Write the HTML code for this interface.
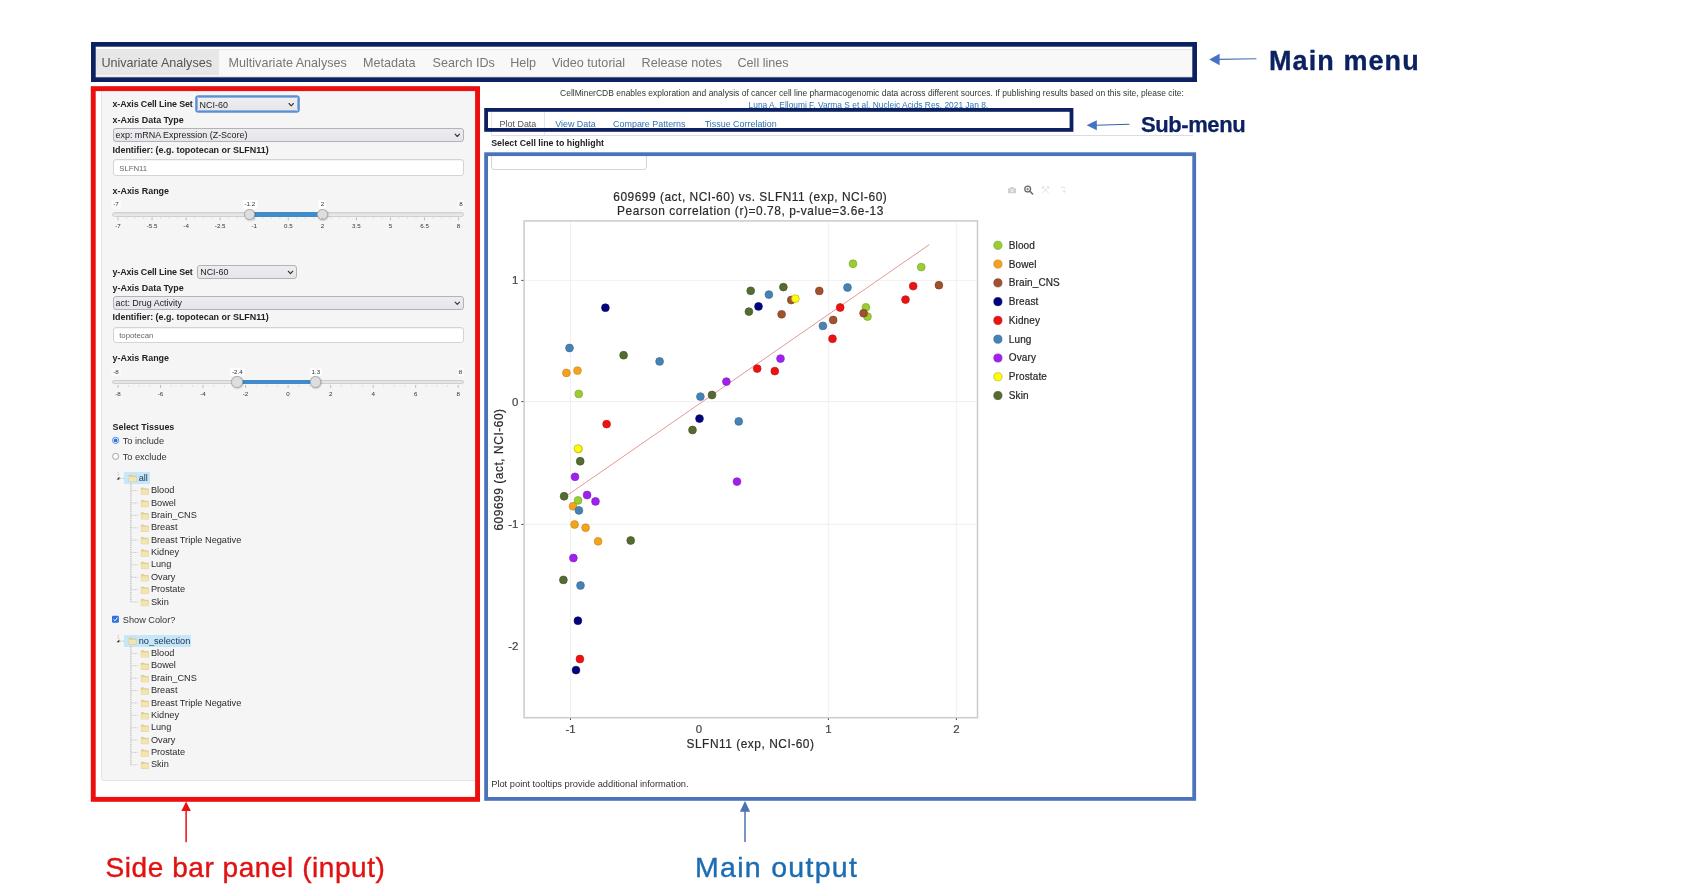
<!DOCTYPE html>
<html><head><meta charset="utf-8"><title>CellMinerCDB layout</title>
<style>
html,body{margin:0;padding:0;background:#fff;}
body{width:1685px;height:896px;position:relative;overflow:hidden;font-family:"Liberation Sans", sans-serif;}
.t{position:absolute;white-space:nowrap;line-height:1;font-family:"Liberation Sans", sans-serif;}
.b{position:absolute;box-sizing:border-box;}
svg{position:absolute;left:0;top:0;}
svg text{font-family:"Liberation Sans", sans-serif;}
#wrap{position:absolute;left:0;top:0;width:1685px;height:896px;will-change:transform;}
</style></head><body><div id="wrap">

<div class="b" style="left:93.50px;top:48.50px;width:1101.00px;height:28.10px;background:#f8f8f8;border:1px solid #e7e7e7;"></div>
<div class="b" style="left:93.50px;top:49.70px;width:125.90px;height:24.90px;background:#e7e7e7;"></div>
<div class="t" style="left:101.40px;top:57.33px;font-size:12.6px;color:#555;">Univariate Analyses</div>
<div class="t" style="left:228.50px;top:57.33px;font-size:12.6px;color:#777;">Multivariate Analyses</div>
<div class="t" style="left:363.10px;top:57.33px;font-size:12.6px;color:#777;">Metadata</div>
<div class="t" style="left:432.60px;top:57.33px;font-size:12.6px;color:#777;">Search IDs</div>
<div class="t" style="left:510.20px;top:57.33px;font-size:12.6px;color:#777;">Help</div>
<div class="t" style="left:551.90px;top:57.33px;font-size:12.6px;color:#777;">Video tutorial</div>
<div class="t" style="left:641.60px;top:57.33px;font-size:12.6px;color:#777;">Release notes</div>
<div class="t" style="left:737.50px;top:57.33px;font-size:12.6px;color:#777;">Cell lines</div>
<div class="b" style="left:101.30px;top:86.00px;width:377.20px;height:695.00px;background:#f5f5f5;border:1px solid #e3e3e3;border-radius:3px;"></div>
<div class="t" style="left:112.50px;top:100.04px;font-size:8.93px;color:#222;font-weight:700;letter-spacing:-0.13px;">x-Axis Cell Line Set</div>
<div class="b" style="left:196.60px;top:97.40px;width:101.60px;height:13.80px;background:linear-gradient(#efeff2,#e6e6ea);border:1px solid #8fb2de;border-radius:1.5px;box-shadow:0 0 0 1.8px #5b8fd2;"></div>
<div class="t" style="left:199.60px;top:100.64px;font-size:8.93px;color:#222;">NCI-60</div>
<svg width="1685" height="896" style="pointer-events:none"><path d="M289.00 103.50 L291.20 105.80 L293.40 103.50" fill="none" stroke="#333" stroke-width="1.1" stroke-linecap="round" stroke-linejoin="round"/></svg>
<div class="t" style="left:112.50px;top:115.84px;font-size:8.93px;color:#222;font-weight:700;">x-Axis Data Type</div>
<div class="b" style="left:112.50px;top:128.00px;width:351.80px;height:14.00px;background:linear-gradient(#ededf1,#e5e5ea);border:1px solid #b2b2b8;border-radius:3px;"></div>
<div class="t" style="left:115.50px;top:131.34px;font-size:8.93px;color:#222;">exp: mRNA Expression (Z-Score)</div>
<svg width="1685" height="896" style="pointer-events:none"><path d="M455.10 134.20 L457.30 136.50 L459.50 134.20" fill="none" stroke="#333" stroke-width="1.1" stroke-linecap="round" stroke-linejoin="round"/></svg>
<div class="t" style="left:112.50px;top:145.64px;font-size:8.93px;color:#222;font-weight:700;">Identifier: (e.g. topotecan or SLFN11)</div>
<div class="b" style="left:113.00px;top:159.40px;width:351.30px;height:16.20px;background:#fff;border:1px solid #d4d4d4;border-radius:3px;box-shadow:inset 0 1px 1px rgba(0,0,0,.05);"></div>
<div class="t" style="left:119.20px;top:164.70px;font-size:7.8px;color:#666;">SLFN11</div>
<div class="t" style="left:112.50px;top:186.74px;font-size:8.93px;color:#222;font-weight:700;">x-Axis Range</div>
<div class="b" style="left:112.40px;top:212.00px;width:351.80px;height:4.60px;background:linear-gradient(#dedede,#ebebeb);border:1px solid #cfcfcf;border-radius:3px;"></div>
<div class="b" style="left:249.70px;top:212.00px;width:72.66px;height:4.60px;background:#428bca;border-top:1px solid #428bca;border-bottom:1px solid #428bca;"></div>
<div class="b" style="left:244.00px;top:208.60px;width:11.40px;height:11.40px;background:#dedede;border:1px solid #ababab;border-radius:50%;box-shadow:0.5px 0.5px 1.5px rgba(0,0,20,.25);"></div>
<div class="b" style="left:316.66px;top:208.60px;width:11.40px;height:11.40px;background:#dedede;border:1px solid #ababab;border-radius:50%;box-shadow:0.5px 0.5px 1.5px rgba(0,0,20,.25);"></div>
<div class="t" style="left:116.00px;top:201.15px;font-size:6.2px;color:#333;transform:translateX(-50%);background:rgba(255,255,255,.55);padding:1.2px 2px 1.2px 2px;margin-top:-1.2px;border-radius:2px;">-7</div>
<div class="t" style="left:461.00px;top:201.15px;font-size:6.2px;color:#333;transform:translateX(-50%);background:rgba(255,255,255,.55);padding:1.2px 2px 1.2px 2px;margin-top:-1.2px;border-radius:2px;">8</div>
<div class="t" style="left:249.90px;top:201.15px;font-size:6.2px;color:#333;transform:translateX(-50%);background:rgba(255,255,255,.85);padding:1.2px 2px 1.2px 2px;margin-top:-1.2px;border-radius:2px;">-1.2</div>
<div class="t" style="left:322.46px;top:201.15px;font-size:6.2px;color:#333;transform:translateX(-50%);background:rgba(255,255,255,.85);padding:1.2px 2px 1.2px 2px;margin-top:-1.2px;border-radius:2px;">2</div>
<svg width="1685" height="896" style="pointer-events:none"><line x1="118.00" y1="217.30" x2="118.00" y2="220.30" stroke="#b0b0b0" stroke-width="0.8"/><line x1="126.52" y1="217.30" x2="126.52" y2="219.10" stroke="#d4d4d4" stroke-width="0.7"/><line x1="135.03" y1="217.30" x2="135.03" y2="219.10" stroke="#d4d4d4" stroke-width="0.7"/><line x1="143.55" y1="217.30" x2="143.55" y2="219.10" stroke="#d4d4d4" stroke-width="0.7"/><line x1="152.06" y1="217.30" x2="152.06" y2="220.30" stroke="#b0b0b0" stroke-width="0.8"/><line x1="160.57" y1="217.30" x2="160.57" y2="219.10" stroke="#d4d4d4" stroke-width="0.7"/><line x1="169.09" y1="217.30" x2="169.09" y2="219.10" stroke="#d4d4d4" stroke-width="0.7"/><line x1="177.61" y1="217.30" x2="177.61" y2="219.10" stroke="#d4d4d4" stroke-width="0.7"/><line x1="186.12" y1="217.30" x2="186.12" y2="220.30" stroke="#b0b0b0" stroke-width="0.8"/><line x1="194.63" y1="217.30" x2="194.63" y2="219.10" stroke="#d4d4d4" stroke-width="0.7"/><line x1="203.15" y1="217.30" x2="203.15" y2="219.10" stroke="#d4d4d4" stroke-width="0.7"/><line x1="211.67" y1="217.30" x2="211.67" y2="219.10" stroke="#d4d4d4" stroke-width="0.7"/><line x1="220.18" y1="217.30" x2="220.18" y2="220.30" stroke="#b0b0b0" stroke-width="0.8"/><line x1="228.69" y1="217.30" x2="228.69" y2="219.10" stroke="#d4d4d4" stroke-width="0.7"/><line x1="237.21" y1="217.30" x2="237.21" y2="219.10" stroke="#d4d4d4" stroke-width="0.7"/><line x1="245.73" y1="217.30" x2="245.73" y2="219.10" stroke="#d4d4d4" stroke-width="0.7"/><line x1="254.24" y1="217.30" x2="254.24" y2="220.30" stroke="#b0b0b0" stroke-width="0.8"/><line x1="262.75" y1="217.30" x2="262.75" y2="219.10" stroke="#d4d4d4" stroke-width="0.7"/><line x1="271.27" y1="217.30" x2="271.27" y2="219.10" stroke="#d4d4d4" stroke-width="0.7"/><line x1="279.79" y1="217.30" x2="279.79" y2="219.10" stroke="#d4d4d4" stroke-width="0.7"/><line x1="288.30" y1="217.30" x2="288.30" y2="220.30" stroke="#b0b0b0" stroke-width="0.8"/><line x1="296.81" y1="217.30" x2="296.81" y2="219.10" stroke="#d4d4d4" stroke-width="0.7"/><line x1="305.33" y1="217.30" x2="305.33" y2="219.10" stroke="#d4d4d4" stroke-width="0.7"/><line x1="313.85" y1="217.30" x2="313.85" y2="219.10" stroke="#d4d4d4" stroke-width="0.7"/><line x1="322.36" y1="217.30" x2="322.36" y2="220.30" stroke="#b0b0b0" stroke-width="0.8"/><line x1="330.88" y1="217.30" x2="330.88" y2="219.10" stroke="#d4d4d4" stroke-width="0.7"/><line x1="339.39" y1="217.30" x2="339.39" y2="219.10" stroke="#d4d4d4" stroke-width="0.7"/><line x1="347.91" y1="217.30" x2="347.91" y2="219.10" stroke="#d4d4d4" stroke-width="0.7"/><line x1="356.42" y1="217.30" x2="356.42" y2="220.30" stroke="#b0b0b0" stroke-width="0.8"/><line x1="364.94" y1="217.30" x2="364.94" y2="219.10" stroke="#d4d4d4" stroke-width="0.7"/><line x1="373.45" y1="217.30" x2="373.45" y2="219.10" stroke="#d4d4d4" stroke-width="0.7"/><line x1="381.97" y1="217.30" x2="381.97" y2="219.10" stroke="#d4d4d4" stroke-width="0.7"/><line x1="390.48" y1="217.30" x2="390.48" y2="220.30" stroke="#b0b0b0" stroke-width="0.8"/><line x1="399.00" y1="217.30" x2="399.00" y2="219.10" stroke="#d4d4d4" stroke-width="0.7"/><line x1="407.51" y1="217.30" x2="407.51" y2="219.10" stroke="#d4d4d4" stroke-width="0.7"/><line x1="416.03" y1="217.30" x2="416.03" y2="219.10" stroke="#d4d4d4" stroke-width="0.7"/><line x1="424.54" y1="217.30" x2="424.54" y2="220.30" stroke="#b0b0b0" stroke-width="0.8"/><line x1="433.06" y1="217.30" x2="433.06" y2="219.10" stroke="#d4d4d4" stroke-width="0.7"/><line x1="441.57" y1="217.30" x2="441.57" y2="219.10" stroke="#d4d4d4" stroke-width="0.7"/><line x1="450.09" y1="217.30" x2="450.09" y2="219.10" stroke="#d4d4d4" stroke-width="0.7"/><line x1="458.60" y1="217.30" x2="458.60" y2="220.30" stroke="#b0b0b0" stroke-width="0.8"/></svg>
<div class="t" style="left:118.00px;top:223.05px;font-size:6.2px;color:#333;transform:translateX(-50%);">-7</div>
<div class="t" style="left:152.06px;top:223.05px;font-size:6.2px;color:#333;transform:translateX(-50%);">-5.5</div>
<div class="t" style="left:186.12px;top:223.05px;font-size:6.2px;color:#333;transform:translateX(-50%);">-4</div>
<div class="t" style="left:220.18px;top:223.05px;font-size:6.2px;color:#333;transform:translateX(-50%);">-2.5</div>
<div class="t" style="left:254.24px;top:223.05px;font-size:6.2px;color:#333;transform:translateX(-50%);">-1</div>
<div class="t" style="left:288.30px;top:223.05px;font-size:6.2px;color:#333;transform:translateX(-50%);">0.5</div>
<div class="t" style="left:322.36px;top:223.05px;font-size:6.2px;color:#333;transform:translateX(-50%);">2</div>
<div class="t" style="left:356.42px;top:223.05px;font-size:6.2px;color:#333;transform:translateX(-50%);">3.5</div>
<div class="t" style="left:390.48px;top:223.05px;font-size:6.2px;color:#333;transform:translateX(-50%);">5</div>
<div class="t" style="left:424.54px;top:223.05px;font-size:6.2px;color:#333;transform:translateX(-50%);">6.5</div>
<div class="t" style="left:458.60px;top:223.05px;font-size:6.2px;color:#333;transform:translateX(-50%);">8</div>
<div class="t" style="left:112.50px;top:268.04px;font-size:8.93px;color:#222;font-weight:700;letter-spacing:-0.13px;">y-Axis Cell Line Set</div>
<div class="b" style="left:197.20px;top:265.00px;width:100.30px;height:14.10px;background:linear-gradient(#ededf1,#e5e5ea);border:1px solid #b2b2b8;border-radius:3px;"></div>
<div class="t" style="left:200.20px;top:268.39px;font-size:8.93px;color:#222;">NCI-60</div>
<svg width="1685" height="896" style="pointer-events:none"><path d="M288.30 271.25 L290.50 273.55 L292.70 271.25" fill="none" stroke="#333" stroke-width="1.1" stroke-linecap="round" stroke-linejoin="round"/></svg>
<div class="t" style="left:112.50px;top:283.59px;font-size:8.93px;color:#222;font-weight:700;">y-Axis Data Type</div>
<div class="b" style="left:112.50px;top:295.90px;width:351.80px;height:14.00px;background:linear-gradient(#ededf1,#e5e5ea);border:1px solid #b2b2b8;border-radius:3px;"></div>
<div class="t" style="left:115.50px;top:299.24px;font-size:8.93px;color:#222;">act: Drug Activity</div>
<svg width="1685" height="896" style="pointer-events:none"><path d="M455.10 302.10 L457.30 304.40 L459.50 302.10" fill="none" stroke="#333" stroke-width="1.1" stroke-linecap="round" stroke-linejoin="round"/></svg>
<div class="t" style="left:112.50px;top:313.24px;font-size:8.93px;color:#222;font-weight:700;">Identifier: (e.g. topotecan or SLFN11)</div>
<div class="b" style="left:113.00px;top:326.50px;width:351.30px;height:16.20px;background:#fff;border:1px solid #d4d4d4;border-radius:3px;box-shadow:inset 0 1px 1px rgba(0,0,0,.05);"></div>
<div class="t" style="left:119.20px;top:331.80px;font-size:7.8px;color:#666;">topotecan</div>
<div class="t" style="left:112.50px;top:353.84px;font-size:8.93px;color:#222;font-weight:700;">y-Axis Range</div>
<div class="b" style="left:112.20px;top:379.70px;width:352.10px;height:4.60px;background:linear-gradient(#dedede,#ebebeb);border:1px solid #cfcfcf;border-radius:3px;"></div>
<div class="b" style="left:237.07px;top:379.70px;width:78.67px;height:4.60px;background:#428bca;border-top:1px solid #428bca;border-bottom:1px solid #428bca;"></div>
<div class="b" style="left:231.37px;top:376.30px;width:11.40px;height:11.40px;background:#dedede;border:1px solid #ababab;border-radius:50%;box-shadow:0.5px 0.5px 1.5px rgba(0,0,20,.25);"></div>
<div class="b" style="left:310.04px;top:376.30px;width:11.40px;height:11.40px;background:#dedede;border:1px solid #ababab;border-radius:50%;box-shadow:0.5px 0.5px 1.5px rgba(0,0,20,.25);"></div>
<div class="t" style="left:116.00px;top:368.85px;font-size:6.2px;color:#333;transform:translateX(-50%);background:rgba(255,255,255,.55);padding:1.2px 2px 1.2px 2px;margin-top:-1.2px;border-radius:2px;">-8</div>
<div class="t" style="left:460.60px;top:368.85px;font-size:6.2px;color:#333;transform:translateX(-50%);background:rgba(255,255,255,.55);padding:1.2px 2px 1.2px 2px;margin-top:-1.2px;border-radius:2px;">8</div>
<div class="t" style="left:237.27px;top:368.85px;font-size:6.2px;color:#333;transform:translateX(-50%);background:rgba(255,255,255,.85);padding:1.2px 2px 1.2px 2px;margin-top:-1.2px;border-radius:2px;">-2.4</div>
<div class="t" style="left:315.84px;top:368.85px;font-size:6.2px;color:#333;transform:translateX(-50%);background:rgba(255,255,255,.85);padding:1.2px 2px 1.2px 2px;margin-top:-1.2px;border-radius:2px;">1.3</div>
<svg width="1685" height="896" style="pointer-events:none"><line x1="118.00" y1="385.00" x2="118.00" y2="388.00" stroke="#b0b0b0" stroke-width="0.8"/><line x1="128.63" y1="385.00" x2="128.63" y2="386.80" stroke="#d4d4d4" stroke-width="0.7"/><line x1="139.26" y1="385.00" x2="139.26" y2="386.80" stroke="#d4d4d4" stroke-width="0.7"/><line x1="149.89" y1="385.00" x2="149.89" y2="386.80" stroke="#d4d4d4" stroke-width="0.7"/><line x1="160.53" y1="385.00" x2="160.53" y2="388.00" stroke="#b0b0b0" stroke-width="0.8"/><line x1="171.16" y1="385.00" x2="171.16" y2="386.80" stroke="#d4d4d4" stroke-width="0.7"/><line x1="181.79" y1="385.00" x2="181.79" y2="386.80" stroke="#d4d4d4" stroke-width="0.7"/><line x1="192.42" y1="385.00" x2="192.42" y2="386.80" stroke="#d4d4d4" stroke-width="0.7"/><line x1="203.05" y1="385.00" x2="203.05" y2="388.00" stroke="#b0b0b0" stroke-width="0.8"/><line x1="213.68" y1="385.00" x2="213.68" y2="386.80" stroke="#d4d4d4" stroke-width="0.7"/><line x1="224.31" y1="385.00" x2="224.31" y2="386.80" stroke="#d4d4d4" stroke-width="0.7"/><line x1="234.94" y1="385.00" x2="234.94" y2="386.80" stroke="#d4d4d4" stroke-width="0.7"/><line x1="245.57" y1="385.00" x2="245.57" y2="388.00" stroke="#b0b0b0" stroke-width="0.8"/><line x1="256.21" y1="385.00" x2="256.21" y2="386.80" stroke="#d4d4d4" stroke-width="0.7"/><line x1="266.84" y1="385.00" x2="266.84" y2="386.80" stroke="#d4d4d4" stroke-width="0.7"/><line x1="277.47" y1="385.00" x2="277.47" y2="386.80" stroke="#d4d4d4" stroke-width="0.7"/><line x1="288.10" y1="385.00" x2="288.10" y2="388.00" stroke="#b0b0b0" stroke-width="0.8"/><line x1="298.73" y1="385.00" x2="298.73" y2="386.80" stroke="#d4d4d4" stroke-width="0.7"/><line x1="309.36" y1="385.00" x2="309.36" y2="386.80" stroke="#d4d4d4" stroke-width="0.7"/><line x1="319.99" y1="385.00" x2="319.99" y2="386.80" stroke="#d4d4d4" stroke-width="0.7"/><line x1="330.62" y1="385.00" x2="330.62" y2="388.00" stroke="#b0b0b0" stroke-width="0.8"/><line x1="341.26" y1="385.00" x2="341.26" y2="386.80" stroke="#d4d4d4" stroke-width="0.7"/><line x1="351.89" y1="385.00" x2="351.89" y2="386.80" stroke="#d4d4d4" stroke-width="0.7"/><line x1="362.52" y1="385.00" x2="362.52" y2="386.80" stroke="#d4d4d4" stroke-width="0.7"/><line x1="373.15" y1="385.00" x2="373.15" y2="388.00" stroke="#b0b0b0" stroke-width="0.8"/><line x1="383.78" y1="385.00" x2="383.78" y2="386.80" stroke="#d4d4d4" stroke-width="0.7"/><line x1="394.41" y1="385.00" x2="394.41" y2="386.80" stroke="#d4d4d4" stroke-width="0.7"/><line x1="405.04" y1="385.00" x2="405.04" y2="386.80" stroke="#d4d4d4" stroke-width="0.7"/><line x1="415.68" y1="385.00" x2="415.68" y2="388.00" stroke="#b0b0b0" stroke-width="0.8"/><line x1="426.31" y1="385.00" x2="426.31" y2="386.80" stroke="#d4d4d4" stroke-width="0.7"/><line x1="436.94" y1="385.00" x2="436.94" y2="386.80" stroke="#d4d4d4" stroke-width="0.7"/><line x1="447.57" y1="385.00" x2="447.57" y2="386.80" stroke="#d4d4d4" stroke-width="0.7"/><line x1="458.20" y1="385.00" x2="458.20" y2="388.00" stroke="#b0b0b0" stroke-width="0.8"/></svg>
<div class="t" style="left:118.00px;top:390.75px;font-size:6.2px;color:#333;transform:translateX(-50%);">-8</div>
<div class="t" style="left:160.53px;top:390.75px;font-size:6.2px;color:#333;transform:translateX(-50%);">-6</div>
<div class="t" style="left:203.05px;top:390.75px;font-size:6.2px;color:#333;transform:translateX(-50%);">-4</div>
<div class="t" style="left:245.57px;top:390.75px;font-size:6.2px;color:#333;transform:translateX(-50%);">-2</div>
<div class="t" style="left:288.10px;top:390.75px;font-size:6.2px;color:#333;transform:translateX(-50%);">0</div>
<div class="t" style="left:330.62px;top:390.75px;font-size:6.2px;color:#333;transform:translateX(-50%);">2</div>
<div class="t" style="left:373.15px;top:390.75px;font-size:6.2px;color:#333;transform:translateX(-50%);">4</div>
<div class="t" style="left:415.68px;top:390.75px;font-size:6.2px;color:#333;transform:translateX(-50%);">6</div>
<div class="t" style="left:458.20px;top:390.75px;font-size:6.2px;color:#333;transform:translateX(-50%);">8</div>
<div class="t" style="left:112.50px;top:422.64px;font-size:8.93px;color:#222;font-weight:700;">Select Tissues</div>
<svg width="1685" height="896"><circle cx="115.6" cy="440.4" r="3.1" fill="#fff" stroke="#3b7be0" stroke-width="0.9"/><circle cx="115.6" cy="440.4" r="1.9" fill="#2f72de"/><circle cx="115.6" cy="456.4" r="3.0" fill="#fff" stroke="#8a8a8a" stroke-width="0.8"/></svg>
<div class="t" style="left:122.70px;top:437.11px;font-size:9.2px;color:#333;">To include</div>
<div class="t" style="left:122.70px;top:453.41px;font-size:9.2px;color:#333;">To exclude</div>
<div class="b" style="left:124.30px;top:472.00px;width:25.90px;height:11.80px;background:#c6e7f8;"></div>
<svg width="1685" height="896"><path d="M119.4 476.70 V479.40 H116.6 Z" fill="#222"/><line x1="118.2" y1="472.50" x2="118.2" y2="476.20" stroke="#999" stroke-width="0.7" stroke-dasharray="0.8 0.8"/><line x1="120" y1="478.30" x2="124.3" y2="478.30" stroke="#999" stroke-width="0.7" stroke-dasharray="0.8 0.8"/><line x1="130.9" y1="484.00" x2="130.9" y2="602.02" stroke="#8c8c8c" stroke-width="0.8" stroke-dasharray="0.9 0.9"/><g transform="translate(128.70,474.00)"><path d="M0.4 1.2 H3.2 L4 2.1 H7.6 V7.6 H0.4 Z" fill="#e6d294" stroke="#d3bd80" stroke-width="0.5"/><path d="M0.4 3 H7.6 V7.6 H0.4 Z" fill="#f4e4b0"/></g><line x1="131.4" y1="490.60" x2="138.6" y2="490.60" stroke="#aaa" stroke-width="0.7" stroke-dasharray="0.9 0.9"/><g transform="translate(140.80,486.70)"><path d="M0.4 1.2 H3.2 L4 2.1 H7.6 V7.6 H0.4 Z" fill="#e6d294" stroke="#d3bd80" stroke-width="0.5"/><path d="M0.4 3 H7.6 V7.6 H0.4 Z" fill="#f4e4b0"/></g><line x1="131.4" y1="502.98" x2="138.6" y2="502.98" stroke="#aaa" stroke-width="0.7" stroke-dasharray="0.9 0.9"/><g transform="translate(140.80,499.08)"><path d="M0.4 1.2 H3.2 L4 2.1 H7.6 V7.6 H0.4 Z" fill="#e6d294" stroke="#d3bd80" stroke-width="0.5"/><path d="M0.4 3 H7.6 V7.6 H0.4 Z" fill="#f4e4b0"/></g><line x1="131.4" y1="515.36" x2="138.6" y2="515.36" stroke="#aaa" stroke-width="0.7" stroke-dasharray="0.9 0.9"/><g transform="translate(140.80,511.46)"><path d="M0.4 1.2 H3.2 L4 2.1 H7.6 V7.6 H0.4 Z" fill="#e6d294" stroke="#d3bd80" stroke-width="0.5"/><path d="M0.4 3 H7.6 V7.6 H0.4 Z" fill="#f4e4b0"/></g><line x1="131.4" y1="527.74" x2="138.6" y2="527.74" stroke="#aaa" stroke-width="0.7" stroke-dasharray="0.9 0.9"/><g transform="translate(140.80,523.84)"><path d="M0.4 1.2 H3.2 L4 2.1 H7.6 V7.6 H0.4 Z" fill="#e6d294" stroke="#d3bd80" stroke-width="0.5"/><path d="M0.4 3 H7.6 V7.6 H0.4 Z" fill="#f4e4b0"/></g><line x1="131.4" y1="540.12" x2="138.6" y2="540.12" stroke="#aaa" stroke-width="0.7" stroke-dasharray="0.9 0.9"/><g transform="translate(140.80,536.22)"><path d="M0.4 1.2 H3.2 L4 2.1 H7.6 V7.6 H0.4 Z" fill="#e6d294" stroke="#d3bd80" stroke-width="0.5"/><path d="M0.4 3 H7.6 V7.6 H0.4 Z" fill="#f4e4b0"/></g><line x1="131.4" y1="552.50" x2="138.6" y2="552.50" stroke="#aaa" stroke-width="0.7" stroke-dasharray="0.9 0.9"/><g transform="translate(140.80,548.60)"><path d="M0.4 1.2 H3.2 L4 2.1 H7.6 V7.6 H0.4 Z" fill="#e6d294" stroke="#d3bd80" stroke-width="0.5"/><path d="M0.4 3 H7.6 V7.6 H0.4 Z" fill="#f4e4b0"/></g><line x1="131.4" y1="564.88" x2="138.6" y2="564.88" stroke="#aaa" stroke-width="0.7" stroke-dasharray="0.9 0.9"/><g transform="translate(140.80,560.98)"><path d="M0.4 1.2 H3.2 L4 2.1 H7.6 V7.6 H0.4 Z" fill="#e6d294" stroke="#d3bd80" stroke-width="0.5"/><path d="M0.4 3 H7.6 V7.6 H0.4 Z" fill="#f4e4b0"/></g><line x1="131.4" y1="577.26" x2="138.6" y2="577.26" stroke="#aaa" stroke-width="0.7" stroke-dasharray="0.9 0.9"/><g transform="translate(140.80,573.36)"><path d="M0.4 1.2 H3.2 L4 2.1 H7.6 V7.6 H0.4 Z" fill="#e6d294" stroke="#d3bd80" stroke-width="0.5"/><path d="M0.4 3 H7.6 V7.6 H0.4 Z" fill="#f4e4b0"/></g><line x1="131.4" y1="589.64" x2="138.6" y2="589.64" stroke="#aaa" stroke-width="0.7" stroke-dasharray="0.9 0.9"/><g transform="translate(140.80,585.74)"><path d="M0.4 1.2 H3.2 L4 2.1 H7.6 V7.6 H0.4 Z" fill="#e6d294" stroke="#d3bd80" stroke-width="0.5"/><path d="M0.4 3 H7.6 V7.6 H0.4 Z" fill="#f4e4b0"/></g><line x1="131.4" y1="602.02" x2="138.6" y2="602.02" stroke="#aaa" stroke-width="0.7" stroke-dasharray="0.9 0.9"/><g transform="translate(140.80,598.12)"><path d="M0.4 1.2 H3.2 L4 2.1 H7.6 V7.6 H0.4 Z" fill="#e6d294" stroke="#d3bd80" stroke-width="0.5"/><path d="M0.4 3 H7.6 V7.6 H0.4 Z" fill="#f4e4b0"/></g></svg>
<div class="t" style="left:138.70px;top:473.71px;font-size:9.2px;color:#16324f;">all</div>
<div class="t" style="left:150.90px;top:486.21px;font-size:9.2px;color:#2a2a2a;">Blood</div>
<div class="t" style="left:150.90px;top:498.59px;font-size:9.2px;color:#2a2a2a;">Bowel</div>
<div class="t" style="left:150.90px;top:510.97px;font-size:9.2px;color:#2a2a2a;">Brain_CNS</div>
<div class="t" style="left:150.90px;top:523.35px;font-size:9.2px;color:#2a2a2a;">Breast</div>
<div class="t" style="left:150.90px;top:535.73px;font-size:9.2px;color:#2a2a2a;">Breast Triple Negative</div>
<div class="t" style="left:150.90px;top:548.11px;font-size:9.2px;color:#2a2a2a;">Kidney</div>
<div class="t" style="left:150.90px;top:560.49px;font-size:9.2px;color:#2a2a2a;">Lung</div>
<div class="t" style="left:150.90px;top:572.87px;font-size:9.2px;color:#2a2a2a;">Ovary</div>
<div class="t" style="left:150.90px;top:585.25px;font-size:9.2px;color:#2a2a2a;">Prostate</div>
<div class="t" style="left:150.90px;top:597.63px;font-size:9.2px;color:#2a2a2a;">Skin</div>
<svg width="1685" height="896"><rect x="112" y="615.8" width="6.9" height="6.9" rx="1.3" fill="#2f72de"/><path d="M113.6 619.3 L115 620.8 L117.4 617.6" fill="none" stroke="#fff" stroke-width="1"/></svg>
<div class="t" style="left:122.80px;top:615.81px;font-size:9.2px;color:#333;">Show Color?</div>
<div class="b" style="left:124.30px;top:634.80px;width:66.60px;height:11.80px;background:#c6e7f8;"></div>
<svg width="1685" height="896"><path d="M119.4 639.50 V642.20 H116.6 Z" fill="#222"/><line x1="118.2" y1="635.30" x2="118.2" y2="639.00" stroke="#999" stroke-width="0.7" stroke-dasharray="0.8 0.8"/><line x1="120" y1="641.10" x2="124.3" y2="641.10" stroke="#999" stroke-width="0.7" stroke-dasharray="0.8 0.8"/><line x1="130.9" y1="646.80" x2="130.9" y2="764.82" stroke="#8c8c8c" stroke-width="0.8" stroke-dasharray="0.9 0.9"/><g transform="translate(128.70,636.80)"><path d="M0.4 1.2 H3.2 L4 2.1 H7.6 V7.6 H0.4 Z" fill="#e6d294" stroke="#d3bd80" stroke-width="0.5"/><path d="M0.4 3 H7.6 V7.6 H0.4 Z" fill="#f4e4b0"/></g><line x1="131.4" y1="653.40" x2="138.6" y2="653.40" stroke="#aaa" stroke-width="0.7" stroke-dasharray="0.9 0.9"/><g transform="translate(140.80,649.50)"><path d="M0.4 1.2 H3.2 L4 2.1 H7.6 V7.6 H0.4 Z" fill="#e6d294" stroke="#d3bd80" stroke-width="0.5"/><path d="M0.4 3 H7.6 V7.6 H0.4 Z" fill="#f4e4b0"/></g><line x1="131.4" y1="665.78" x2="138.6" y2="665.78" stroke="#aaa" stroke-width="0.7" stroke-dasharray="0.9 0.9"/><g transform="translate(140.80,661.88)"><path d="M0.4 1.2 H3.2 L4 2.1 H7.6 V7.6 H0.4 Z" fill="#e6d294" stroke="#d3bd80" stroke-width="0.5"/><path d="M0.4 3 H7.6 V7.6 H0.4 Z" fill="#f4e4b0"/></g><line x1="131.4" y1="678.16" x2="138.6" y2="678.16" stroke="#aaa" stroke-width="0.7" stroke-dasharray="0.9 0.9"/><g transform="translate(140.80,674.26)"><path d="M0.4 1.2 H3.2 L4 2.1 H7.6 V7.6 H0.4 Z" fill="#e6d294" stroke="#d3bd80" stroke-width="0.5"/><path d="M0.4 3 H7.6 V7.6 H0.4 Z" fill="#f4e4b0"/></g><line x1="131.4" y1="690.54" x2="138.6" y2="690.54" stroke="#aaa" stroke-width="0.7" stroke-dasharray="0.9 0.9"/><g transform="translate(140.80,686.64)"><path d="M0.4 1.2 H3.2 L4 2.1 H7.6 V7.6 H0.4 Z" fill="#e6d294" stroke="#d3bd80" stroke-width="0.5"/><path d="M0.4 3 H7.6 V7.6 H0.4 Z" fill="#f4e4b0"/></g><line x1="131.4" y1="702.92" x2="138.6" y2="702.92" stroke="#aaa" stroke-width="0.7" stroke-dasharray="0.9 0.9"/><g transform="translate(140.80,699.02)"><path d="M0.4 1.2 H3.2 L4 2.1 H7.6 V7.6 H0.4 Z" fill="#e6d294" stroke="#d3bd80" stroke-width="0.5"/><path d="M0.4 3 H7.6 V7.6 H0.4 Z" fill="#f4e4b0"/></g><line x1="131.4" y1="715.30" x2="138.6" y2="715.30" stroke="#aaa" stroke-width="0.7" stroke-dasharray="0.9 0.9"/><g transform="translate(140.80,711.40)"><path d="M0.4 1.2 H3.2 L4 2.1 H7.6 V7.6 H0.4 Z" fill="#e6d294" stroke="#d3bd80" stroke-width="0.5"/><path d="M0.4 3 H7.6 V7.6 H0.4 Z" fill="#f4e4b0"/></g><line x1="131.4" y1="727.68" x2="138.6" y2="727.68" stroke="#aaa" stroke-width="0.7" stroke-dasharray="0.9 0.9"/><g transform="translate(140.80,723.78)"><path d="M0.4 1.2 H3.2 L4 2.1 H7.6 V7.6 H0.4 Z" fill="#e6d294" stroke="#d3bd80" stroke-width="0.5"/><path d="M0.4 3 H7.6 V7.6 H0.4 Z" fill="#f4e4b0"/></g><line x1="131.4" y1="740.06" x2="138.6" y2="740.06" stroke="#aaa" stroke-width="0.7" stroke-dasharray="0.9 0.9"/><g transform="translate(140.80,736.16)"><path d="M0.4 1.2 H3.2 L4 2.1 H7.6 V7.6 H0.4 Z" fill="#e6d294" stroke="#d3bd80" stroke-width="0.5"/><path d="M0.4 3 H7.6 V7.6 H0.4 Z" fill="#f4e4b0"/></g><line x1="131.4" y1="752.44" x2="138.6" y2="752.44" stroke="#aaa" stroke-width="0.7" stroke-dasharray="0.9 0.9"/><g transform="translate(140.80,748.54)"><path d="M0.4 1.2 H3.2 L4 2.1 H7.6 V7.6 H0.4 Z" fill="#e6d294" stroke="#d3bd80" stroke-width="0.5"/><path d="M0.4 3 H7.6 V7.6 H0.4 Z" fill="#f4e4b0"/></g><line x1="131.4" y1="764.82" x2="138.6" y2="764.82" stroke="#aaa" stroke-width="0.7" stroke-dasharray="0.9 0.9"/><g transform="translate(140.80,760.92)"><path d="M0.4 1.2 H3.2 L4 2.1 H7.6 V7.6 H0.4 Z" fill="#e6d294" stroke="#d3bd80" stroke-width="0.5"/><path d="M0.4 3 H7.6 V7.6 H0.4 Z" fill="#f4e4b0"/></g></svg>
<div class="t" style="left:138.70px;top:636.51px;font-size:9.2px;color:#16324f;">no_selection</div>
<div class="t" style="left:150.90px;top:649.01px;font-size:9.2px;color:#2a2a2a;">Blood</div>
<div class="t" style="left:150.90px;top:661.39px;font-size:9.2px;color:#2a2a2a;">Bowel</div>
<div class="t" style="left:150.90px;top:673.77px;font-size:9.2px;color:#2a2a2a;">Brain_CNS</div>
<div class="t" style="left:150.90px;top:686.15px;font-size:9.2px;color:#2a2a2a;">Breast</div>
<div class="t" style="left:150.90px;top:698.53px;font-size:9.2px;color:#2a2a2a;">Breast Triple Negative</div>
<div class="t" style="left:150.90px;top:710.91px;font-size:9.2px;color:#2a2a2a;">Kidney</div>
<div class="t" style="left:150.90px;top:723.29px;font-size:9.2px;color:#2a2a2a;">Lung</div>
<div class="t" style="left:150.90px;top:735.67px;font-size:9.2px;color:#2a2a2a;">Ovary</div>
<div class="t" style="left:150.90px;top:748.05px;font-size:9.2px;color:#2a2a2a;">Prostate</div>
<div class="t" style="left:150.90px;top:760.43px;font-size:9.2px;color:#2a2a2a;">Skin</div>
<div class="t" style="left:560.10px;top:89.31px;font-size:8.49px;color:#333;">CellMinerCDB enables exploration and analysis of cancer cell line pharmacogenomic data across different sources. If publishing results based on this site, please cite:</div>
<div class="t" style="left:748.60px;top:101.41px;font-size:8.38px;color:#2f74b0;text-decoration:underline;">Luna A, Elloumi F, Varma S et al. Nucleic Acids Res. 2021 Jan 8.</div>
<div class="b" style="left:490.60px;top:134.50px;width:702.90px;height:0.90px;background:#ddd;"></div>
<div class="b" style="left:490.60px;top:109.50px;width:54.60px;height:25.90px;background:#fff;border:1px solid #e6e6e6;border-bottom:none;border-radius:3px 3px 0 0;"></div>
<div class="t" style="left:499.60px;top:120.03px;font-size:8.94px;color:#555;">Plot Data</div>
<div class="t" style="left:555.20px;top:120.03px;font-size:8.94px;color:#3173b1;">View Data</div>
<div class="t" style="left:613.10px;top:120.03px;font-size:8.94px;color:#3173b1;">Compare Patterns</div>
<div class="t" style="left:704.70px;top:120.03px;font-size:8.94px;color:#3173b1;">Tissue Correlation</div>
<div class="t" style="left:491.20px;top:139.23px;font-size:8.83px;color:#222;font-weight:700;">Select Cell line to highlight</div>
<div class="b" style="left:490.60px;top:152.60px;width:156.60px;height:17.20px;background:#fff;border:1px solid #d6d6d6;border-radius:3px;box-shadow:inset 0 1px 1px rgba(0,0,0,.06);"></div>
<div class="t" style="left:491.20px;top:780.23px;font-size:9.3px;color:#333;">Plot point tooltips provide additional information.</div>
<svg width="1685" height="896" viewBox="0 0 1685 896"><line x1="570.50" y1="220.9" x2="570.50" y2="717.7" stroke="#eeeeee" stroke-width="0.9"/><line x1="828.40" y1="220.9" x2="828.40" y2="717.7" stroke="#eeeeee" stroke-width="0.9"/><line x1="956.40" y1="220.9" x2="956.40" y2="717.7" stroke="#eeeeee" stroke-width="0.9"/><line x1="524.1" y1="280.40" x2="977.5" y2="280.40" stroke="#eeeeee" stroke-width="0.9"/><line x1="524.1" y1="401.60" x2="977.5" y2="401.60" stroke="#eeeeee" stroke-width="0.9"/><line x1="524.1" y1="524.40" x2="977.5" y2="524.40" stroke="#eeeeee" stroke-width="0.9"/><line x1="564.2" y1="497.4" x2="929.3" y2="244.6" stroke="#ea9696" stroke-width="1"/><circle cx="577.5" cy="370.6" r="3.9" fill="#f5a21e" stroke="#c98a25" stroke-width="0.7"/><circle cx="566.4" cy="372.9" r="3.9" fill="#f5a21e" stroke="#c98a25" stroke-width="0.7"/><circle cx="573" cy="506.25" r="3.9" fill="#f5a21e" stroke="#c98a25" stroke-width="0.7"/><circle cx="574.6" cy="524.5" r="3.9" fill="#f5a21e" stroke="#c98a25" stroke-width="0.7"/><circle cx="585.6" cy="527.7" r="3.9" fill="#f5a21e" stroke="#c98a25" stroke-width="0.7"/><circle cx="598.1" cy="541.3" r="3.9" fill="#f5a21e" stroke="#c98a25" stroke-width="0.7"/><circle cx="853" cy="263.75" r="3.9" fill="#9acd32" stroke="#7fa62e" stroke-width="0.7"/><circle cx="921.25" cy="267.1" r="3.9" fill="#9acd32" stroke="#7fa62e" stroke-width="0.7"/><circle cx="865.9" cy="307.3" r="3.9" fill="#9acd32" stroke="#7fa62e" stroke-width="0.7"/><circle cx="867.5" cy="316.6" r="3.9" fill="#9acd32" stroke="#7fa62e" stroke-width="0.7"/><circle cx="578.75" cy="393.9" r="3.9" fill="#9acd32" stroke="#7fa62e" stroke-width="0.7"/><circle cx="578" cy="500.4" r="3.9" fill="#9acd32" stroke="#7fa62e" stroke-width="0.7"/><circle cx="791.25" cy="300" r="3.9" fill="#a0522d" stroke="#7f4529" stroke-width="0.7"/><circle cx="781.6" cy="314.3" r="3.9" fill="#a0522d" stroke="#7f4529" stroke-width="0.7"/><circle cx="819.3" cy="290.9" r="3.9" fill="#a0522d" stroke="#7f4529" stroke-width="0.7"/><circle cx="938.9" cy="285.2" r="3.9" fill="#a0522d" stroke="#7f4529" stroke-width="0.7"/><circle cx="863.6" cy="313.2" r="3.9" fill="#a0522d" stroke="#7f4529" stroke-width="0.7"/><circle cx="833.2" cy="320" r="3.9" fill="#a0522d" stroke="#7f4529" stroke-width="0.7"/><circle cx="605.4" cy="307.7" r="3.9" fill="#000080" stroke="#101060" stroke-width="0.7"/><circle cx="758.5" cy="306.4" r="3.9" fill="#000080" stroke="#101060" stroke-width="0.7"/><circle cx="699.5" cy="418.6" r="3.9" fill="#000080" stroke="#101060" stroke-width="0.7"/><circle cx="577.9" cy="620.7" r="3.9" fill="#000080" stroke="#101060" stroke-width="0.7"/><circle cx="576" cy="670.1" r="3.9" fill="#000080" stroke="#101060" stroke-width="0.7"/><circle cx="913.2" cy="286.1" r="3.9" fill="#ee1111" stroke="#c01818" stroke-width="0.7"/><circle cx="905.5" cy="299.6" r="3.9" fill="#ee1111" stroke="#c01818" stroke-width="0.7"/><circle cx="840.2" cy="307.5" r="3.9" fill="#ee1111" stroke="#c01818" stroke-width="0.7"/><circle cx="832.5" cy="338.75" r="3.9" fill="#ee1111" stroke="#c01818" stroke-width="0.7"/><circle cx="757.2" cy="368.6" r="3.9" fill="#ee1111" stroke="#c01818" stroke-width="0.7"/><circle cx="774.8" cy="371.1" r="3.9" fill="#ee1111" stroke="#c01818" stroke-width="0.7"/><circle cx="606.6" cy="424.1" r="3.9" fill="#ee1111" stroke="#c01818" stroke-width="0.7"/><circle cx="579.9" cy="659" r="3.9" fill="#ee1111" stroke="#c01818" stroke-width="0.7"/><circle cx="569.5" cy="348" r="3.9" fill="#4682b4" stroke="#3f6f98" stroke-width="0.7"/><circle cx="659.6" cy="361.4" r="3.9" fill="#4682b4" stroke="#3f6f98" stroke-width="0.7"/><circle cx="768.9" cy="294.6" r="3.9" fill="#4682b4" stroke="#3f6f98" stroke-width="0.7"/><circle cx="847.5" cy="287.5" r="3.9" fill="#4682b4" stroke="#3f6f98" stroke-width="0.7"/><circle cx="822.9" cy="325.9" r="3.9" fill="#4682b4" stroke="#3f6f98" stroke-width="0.7"/><circle cx="700.4" cy="396.6" r="3.9" fill="#4682b4" stroke="#3f6f98" stroke-width="0.7"/><circle cx="738.75" cy="421.4" r="3.9" fill="#4682b4" stroke="#3f6f98" stroke-width="0.7"/><circle cx="578.9" cy="510.4" r="3.9" fill="#4682b4" stroke="#3f6f98" stroke-width="0.7"/><circle cx="580.5" cy="585.5" r="3.9" fill="#4682b4" stroke="#3f6f98" stroke-width="0.7"/><circle cx="726.4" cy="381.6" r="3.9" fill="#a020f0" stroke="#8424c4" stroke-width="0.7"/><circle cx="780.5" cy="358.6" r="3.9" fill="#a020f0" stroke="#8424c4" stroke-width="0.7"/><circle cx="575" cy="476.8" r="3.9" fill="#a020f0" stroke="#8424c4" stroke-width="0.7"/><circle cx="587.1" cy="495" r="3.9" fill="#a020f0" stroke="#8424c4" stroke-width="0.7"/><circle cx="595.5" cy="501.4" r="3.9" fill="#a020f0" stroke="#8424c4" stroke-width="0.7"/><circle cx="737" cy="481.6" r="3.9" fill="#a020f0" stroke="#8424c4" stroke-width="0.7"/><circle cx="573.4" cy="558" r="3.9" fill="#a020f0" stroke="#8424c4" stroke-width="0.7"/><circle cx="795.4" cy="298.6" r="3.9" fill="#ffff00" stroke="#b9b420" stroke-width="0.7"/><circle cx="578.5" cy="449.0" r="3.9" fill="#ffff00" stroke="#b9b420" stroke-width="0.7"/><circle cx="578" cy="448.6" r="3.9" fill="#ffff00" stroke="#b9b420" stroke-width="0.7"/><circle cx="750.7" cy="290.8" r="3.9" fill="#556b2f" stroke="#47582b" stroke-width="0.7"/><circle cx="748.9" cy="311.6" r="3.9" fill="#556b2f" stroke="#47582b" stroke-width="0.7"/><circle cx="783.4" cy="287.1" r="3.9" fill="#556b2f" stroke="#47582b" stroke-width="0.7"/><circle cx="623.6" cy="355.2" r="3.9" fill="#556b2f" stroke="#47582b" stroke-width="0.7"/><circle cx="712" cy="395" r="3.9" fill="#556b2f" stroke="#47582b" stroke-width="0.7"/><circle cx="692.5" cy="430" r="3.9" fill="#556b2f" stroke="#47582b" stroke-width="0.7"/><circle cx="580.2" cy="461.25" r="3.9" fill="#556b2f" stroke="#47582b" stroke-width="0.7"/><circle cx="564.1" cy="496.25" r="3.9" fill="#556b2f" stroke="#47582b" stroke-width="0.7"/><circle cx="630.7" cy="540.5" r="3.9" fill="#556b2f" stroke="#47582b" stroke-width="0.7"/><circle cx="563.4" cy="579.9" r="3.9" fill="#556b2f" stroke="#47582b" stroke-width="0.7"/><rect x="524.1" y="220.9" width="453.40" height="496.80" fill="none" stroke="#cbcbcb" stroke-width="1.5"/><line x1="570.50" y1="718.4000000000001" x2="570.50" y2="720.0" stroke="#444" stroke-width="1"/><text x="570.50" y="733.0" font-size="11.4" fill="#444" stroke="#444" stroke-width="0.2" text-anchor="middle">-1</text><text x="699.00" y="733.0" font-size="11.4" fill="#444" stroke="#444" stroke-width="0.2" text-anchor="middle">0</text><line x1="828.40" y1="718.4000000000001" x2="828.40" y2="720.0" stroke="#444" stroke-width="1"/><text x="828.40" y="733.0" font-size="11.4" fill="#444" stroke="#444" stroke-width="0.2" text-anchor="middle">1</text><line x1="956.40" y1="718.4000000000001" x2="956.40" y2="720.0" stroke="#444" stroke-width="1"/><text x="956.40" y="733.0" font-size="11.4" fill="#444" stroke="#444" stroke-width="0.2" text-anchor="middle">2</text><line x1="521.3000000000001" y1="280.40" x2="523.4" y2="280.40" stroke="#444" stroke-width="1"/><text x="518.4" y="284.35" font-size="11.4" fill="#444" stroke="#444" stroke-width="0.2" text-anchor="end">1</text><line x1="521.3000000000001" y1="401.60" x2="523.4" y2="401.60" stroke="#444" stroke-width="1"/><text x="518.4" y="405.55" font-size="11.4" fill="#444" stroke="#444" stroke-width="0.2" text-anchor="end">0</text><line x1="521.3000000000001" y1="524.40" x2="523.4" y2="524.40" stroke="#444" stroke-width="1"/><text x="518.4" y="528.35" font-size="11.4" fill="#444" stroke="#444" stroke-width="0.2" text-anchor="end">-1</text><text x="518.4" y="649.55" font-size="11.4" fill="#444" stroke="#444" stroke-width="0.2" text-anchor="end">-2</text><text x="750.3" y="200.8" font-size="11.9" fill="#2a2a2a" stroke="#2a2a2a" stroke-width="0.2" text-anchor="middle" letter-spacing="0.53">609699 (act, NCI-60) vs. SLFN11 (exp, NCI-60)</text><text x="750.5" y="215.2" font-size="11.9" fill="#2a2a2a" stroke="#2a2a2a" stroke-width="0.2" text-anchor="middle" letter-spacing="0.57">Pearson correlation (r)=0.78, p-value=3.6e-13</text><text x="750.5" y="747.6" font-size="11.9" fill="#2a2a2a" stroke="#2a2a2a" stroke-width="0.2" text-anchor="middle" letter-spacing="0.53">SLFN11 (exp, NCI-60)</text><text transform="translate(502.8,469.5) rotate(-90)" font-size="11.9" fill="#2a2a2a" stroke="#2a2a2a" stroke-width="0.2" text-anchor="middle" letter-spacing="0.56">609699 (act, NCI-60)</text><circle cx="997.9" cy="245.30" r="4.1" fill="#9acd32" stroke="#7fa62e" stroke-width="0.7"/><text x="1008.8" y="248.80" font-size="10" fill="#2a2a2a" stroke="#2a2a2a" stroke-width="0.22" letter-spacing="0.12">Blood</text><circle cx="997.9" cy="264.08" r="4.1" fill="#f5a21e" stroke="#c98a25" stroke-width="0.7"/><text x="1008.8" y="267.58" font-size="10" fill="#2a2a2a" stroke="#2a2a2a" stroke-width="0.22" letter-spacing="0.12">Bowel</text><circle cx="997.9" cy="282.86" r="4.1" fill="#a0522d" stroke="#7f4529" stroke-width="0.7"/><text x="1008.8" y="286.36" font-size="10" fill="#2a2a2a" stroke="#2a2a2a" stroke-width="0.22" letter-spacing="0.12">Brain_CNS</text><circle cx="997.9" cy="301.64" r="4.1" fill="#000080" stroke="#101060" stroke-width="0.7"/><text x="1008.8" y="305.14" font-size="10" fill="#2a2a2a" stroke="#2a2a2a" stroke-width="0.22" letter-spacing="0.12">Breast</text><circle cx="997.9" cy="320.42" r="4.1" fill="#ee1111" stroke="#c01818" stroke-width="0.7"/><text x="1008.8" y="323.92" font-size="10" fill="#2a2a2a" stroke="#2a2a2a" stroke-width="0.22" letter-spacing="0.12">Kidney</text><circle cx="997.9" cy="339.20" r="4.1" fill="#4682b4" stroke="#3f6f98" stroke-width="0.7"/><text x="1008.8" y="342.70" font-size="10" fill="#2a2a2a" stroke="#2a2a2a" stroke-width="0.22" letter-spacing="0.12">Lung</text><circle cx="997.9" cy="357.98" r="4.1" fill="#a020f0" stroke="#8424c4" stroke-width="0.7"/><text x="1008.8" y="361.48" font-size="10" fill="#2a2a2a" stroke="#2a2a2a" stroke-width="0.22" letter-spacing="0.12">Ovary</text><circle cx="997.9" cy="376.76" r="4.1" fill="#ffff00" stroke="#b9b420" stroke-width="0.7"/><text x="1008.8" y="380.26" font-size="10" fill="#2a2a2a" stroke="#2a2a2a" stroke-width="0.22" letter-spacing="0.12">Prostate</text><circle cx="997.9" cy="395.54" r="4.1" fill="#556b2f" stroke="#47582b" stroke-width="0.7"/><text x="1008.8" y="399.04" font-size="10" fill="#2a2a2a" stroke="#2a2a2a" stroke-width="0.22" letter-spacing="0.12">Skin</text><g><path d="M1008.1 188.2 H1010.2 L1010.9 187 H1013.4 L1014.1 188.2 H1016.1 V193.3 H1008.1 Z" fill="#cfcfcf"/><circle cx="1012.1" cy="190.6" r="1.5" fill="#f4f4f4"/><circle cx="1012.1" cy="190.6" r="0.6" fill="#cfcfcf"/></g><g fill="none" stroke="#6a6a6a"><circle cx="1027.7" cy="189.1" r="2.9" stroke-width="1.3"/><path d="M1029.9 191.3 L1032.6 194" stroke-width="1.6" stroke-linecap="round"/><path d="M1026.3 189.1 H1029.1 M1027.7 187.7 V190.5" stroke-width="0.8"/></g><g fill="none" stroke="#dedede" stroke-width="0.9"><path d="M1042.4 186.8 L1048.8 193.2 M1048.8 186.8 L1042.4 193.2 M1042.4 188.8 V186.8 H1044.4 M1046.8 186.8 H1048.8 V188.8"/></g><g fill="none" stroke="#e2e2e2" stroke-width="0.9"><path d="M1060.6 187.4 H1065.4 M1064.2 189.4 V193.4 M1062.6 191.4 H1065.6"/></g></svg>
<svg width="1685" height="896" viewBox="0 0 1685 896"><rect x="93.35" y="44.35" width="1101.30" height="35.30" fill="none" stroke="#0b2161" stroke-width="4.7"/></svg>
<svg width="1685" height="896" viewBox="0 0 1685 896"><rect x="93.25" y="88.65" width="384.30" height="710.70" fill="none" stroke="#ec0f0f" stroke-width="4.9"/></svg>
<svg width="1685" height="896" viewBox="0 0 1685 896"><rect x="486.10" y="109.90" width="585.40" height="20.00" fill="none" stroke="#0b2161" stroke-width="3.8"/></svg>
<svg width="1685" height="896" viewBox="0 0 1685 896"><rect x="486.10" y="154.20" width="708.10" height="644.70" fill="none" stroke="#4b73b9" stroke-width="3.8"/></svg>
<svg width="1685" height="896" viewBox="0 0 1685 896"><line x1="1218" y1="59.4" x2="1256.4" y2="58.7" stroke="#4a6fb3" stroke-width="1.1"/><path d="M1209.2 59.4 L1219.6 53.8 V65.2 Z" fill="#4472c4"/><line x1="1095" y1="125.2" x2="1129.4" y2="124.3" stroke="#3c5fa0" stroke-width="1.1"/><path d="M1086.6 125.3 L1096.8 120.2 V130.2 Z" fill="#4472c4"/><line x1="186.1" y1="809" x2="186.1" y2="842.2" stroke="#ec0f0f" stroke-width="1.5"/><path d="M186.1 801.6 L181.4 811 H190.8 Z" fill="#ec0f0f"/><line x1="745" y1="810" x2="745" y2="842.1" stroke="#4b70b6" stroke-width="1.5"/><path d="M745 801 L739.9 811.8 H750.1 Z" fill="#4b70b6"/></svg>
<div class="t" style="left:1269.0px;top:47.64px;font-size:27px;color:#0b2161;font-weight:700;letter-spacing:1.08px;-webkit-text-stroke:0.3px #0b2161;">Main menu</div>
<div class="t" style="left:1141.0px;top:113.88px;font-size:22px;color:#0b2161;font-weight:700;letter-spacing:-0.42px;-webkit-text-stroke:0.25px #0b2161;">Sub-menu</div>
<div class="t" style="left:105.6px;top:853.70px;font-size:28px;color:#e01212;font-weight:400;letter-spacing:0.55px;-webkit-text-stroke:0.4px #e01212;">Side bar panel (input)</div>
<div class="t" style="left:695.0px;top:853.17px;font-size:28.5px;color:#1b6cb3;font-weight:400;letter-spacing:1.3px;-webkit-text-stroke:0.4px #1b6cb3;">Main output</div>
</div></body></html>
